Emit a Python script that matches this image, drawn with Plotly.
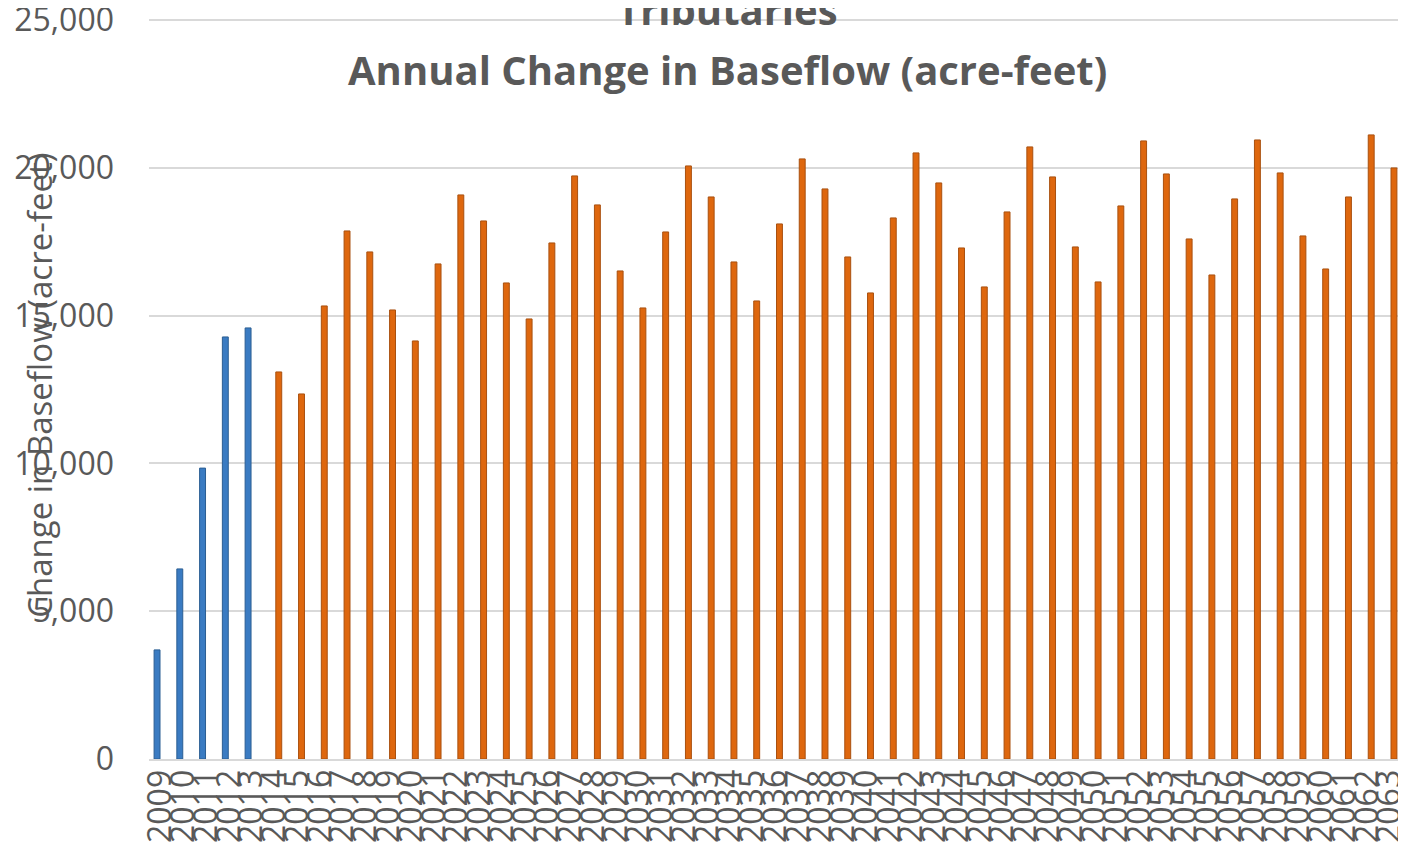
import plotly.graph_objects as go

years = [str(y) for y in range(2009, 2064)]
hist_years = years[:5]
hist_values = [3690, 6430, 9840, 14276, 14581]
proj_years = years[5:]
proj_values = [
    13092, 12348, 15325, 17862, 17152, 15189, 14141, 16746, 19080, 18200,
    16103, 14885, 17456, 19723, 18742, 16509, 15257, 17828, 20061, 19012,
    16813, 15494, 18099, 20298, 19283, 16982, 15765, 18302, 20501, 19486,
    17287, 15968, 18505, 20704, 19689, 17321, 16137, 18708, 20907, 19790,
    17591, 16373, 18945, 20940, 19824, 17693, 16576, 19012, 21110, 19993,
]
title_line1 = "Tributaries"
title_line2 = "Annual Change in Baseflow (acre-feet)"
y_title = "Change in Baseflow (acre-feet)"

# page body has an 8px default margin on each side; work in div coordinates
OFF = 8
W, H = 1406 - 2 * OFF, 860 - 2 * OFF
YMAX = 25200
scale = (759 - 168) / 20000.0          # px per unit
top_page = 759 - YMAX * scale           # page y of plot-area top
L, R = 149 - OFF, 0
B = H - (759 - OFF)
T = top_page - OFF
ph = H - T - B
pw = W - L - R

step = (1390 - 161) / 54.0              # px per category
x0 = -(161 - 149) / step
x1 = x0 + pw / step

def px_x(page_x):
    return (page_x - OFF - L) / pw

def px_y(page_y):
    return 1 - (page_y - OFF - T) / ph

bw = 0.26
fig = go.Figure()
fig.add_trace(go.Bar(
    x=hist_years, y=hist_values, width=bw, offset=-0.174 - bw / 2,
    marker=dict(color="#3A7BC2", line=dict(color="#2B5E93", width=1)),
    showlegend=False,
))
fig.add_trace(go.Bar(
    x=proj_years, y=proj_values, width=bw, offset=0.174 - bw / 2,
    marker=dict(color="#DE670E", line=dict(color="#A9500F", width=1)),
    showlegend=False,
))

grey = "#595959"
fig.update_layout(
    autosize=False,
    width=W, height=H,
    margin=dict(l=L, r=R, t=T, b=B, pad=0, autoexpand=False),
    plot_bgcolor="white", paper_bgcolor="white",
    barmode="overlay",
    font=dict(family="Open Sans", color=grey),
    xaxis=dict(
        type="category", categoryorder="array", categoryarray=years,
        range=[x0, x1], tickmode="linear", tick0=0, dtick=1,
        tickangle=-90, tickfont=dict(size=32, color=grey),
        showline=True, linecolor="#D9D9D9", linewidth=2,
        showgrid=False, ticks="", ticklabelstandoff=-4,
        ticklabeloverflow="allow", automargin=False,
    ),
    yaxis=dict(
        range=[0, YMAX], tickmode="linear", tick0=0, dtick=5000, tickformat=",",
        tickfont=dict(size=32, color=grey),
        showgrid=True, gridcolor="#D9D9D9", gridwidth=1.5,
        zeroline=False, ticks="", ticklabelstandoff=34,
        ticklabeloverflow="allow", automargin=False,
    ),
    annotations=[
        dict(text=f"<b>{title_line1}</b>", x=px_x(727), y=px_y(10),
             xref="paper", yref="paper", xanchor="center", yanchor="middle",
             showarrow=False, font=dict(size=40, color=grey)),
        dict(text=f"<b>{title_line2}</b>", x=px_x(727), y=px_y(70),
             xref="paper", yref="paper", xanchor="center", yanchor="middle",
             showarrow=False, font=dict(size=40, color=grey)),
        dict(text=y_title, x=px_x(40), y=px_y(386), textangle=-90,
             xref="paper", yref="paper", xanchor="center", yanchor="middle",
             showarrow=False, font=dict(size=33, color=grey)),
    ],
)

fig.write_html("out.html")
